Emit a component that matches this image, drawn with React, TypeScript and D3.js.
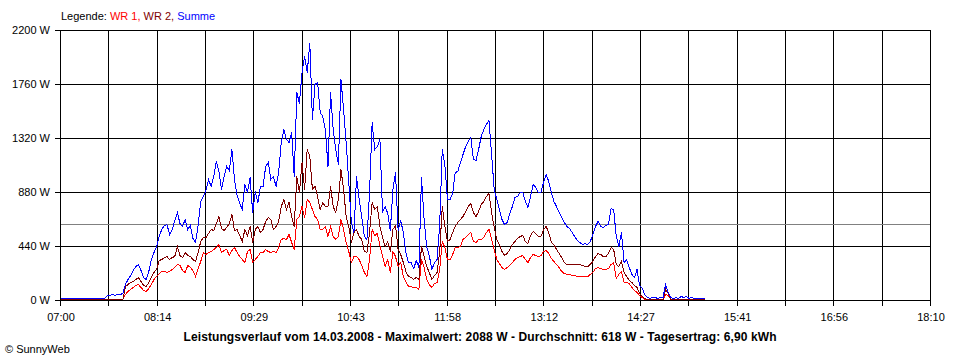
import React from 'react';
import * as d3 from 'd3';

// Sampling: one value every 2 minutes starting 07:00
const startLabel = '07:00';
const stepMinutes = 2;
const spanMinutes = 670; // 07:00 .. 18:10

const summe = [
  5, 5, 8, 8, 5, 5, 8, 5, 5, 5,
  8, 5, 5, 8, 5, 5, 8, 10, 35, 35,
  38, 35, 38, 40, 45, 122, 160, 195, 240, 271,
  285, 235, 180, 165, 230, 330, 380, 435, 516, 570,
  600, 611, 530, 570, 640, 706, 620, 597, 652, 570,
  600, 500, 462, 600, 801, 840, 890, 978, 920, 1000,
  1127, 1040, 900, 1000, 1086, 1050, 1222, 978, 850, 780,
  733, 937, 870, 991, 706, 882, 788, 923, 923, 1086,
  1114, 978, 1005, 923, 1032, 1277, 1385, 1304, 1277, 1358,
  1005, 1684, 1600, 1847, 1983, 1850, 2088, 1467, 1752, 1766,
  1521, 1494, 1385, 1086, 1684, 1385, 1222, 1100, 1793, 1548,
  1277, 950, 625, 543, 1005, 815, 679, 516, 489, 869,
  1440, 1222, 1250, 1300, 706, 760, 700, 560, 896, 1032,
  560, 640, 543, 380, 299, 299, 250, 320, 260, 991,
  650, 435, 360, 244, 300, 330, 600, 1222, 1100, 815,
  815, 860, 1032, 1040, 1114, 1180, 1250, 1290, 1317, 1141,
  1130, 1222, 1330, 1385, 1426, 1461, 1180, 900, 815, 730,
  650, 611, 630, 700, 760, 828, 842, 869, 875, 801,
  747, 842, 937, 910, 869, 869, 951, 1018, 964, 869,
  801, 760, 706, 665, 630, 597, 576, 543, 511, 484,
  462, 448, 456, 452, 470, 530, 597, 638, 597, 584,
  603, 611, 739, 733, 516, 435, 543, 299, 326, 258,
  204, 177, 244, 114, 87, 41, 14, 10, 14, 14,
  10, 14, 20, 122, 60, 14, 10, 20, 10, 25,
  15, 25, 10, 14, 8, 8, 8, 8, 8,
];

const wr1 = [
  0, 0, 0, 0, 0, 0, 0, 0, 0, 0,
  0, 0, 0, 0, 0, 0, 0, 0, 0, 0,
  0, 0, 0, 0, 0,
  40, 68, 80, 100, 115, 122, 100, 75, 68, 90,
  120, 160, 190, 215, 231, 230, 220, 230, 245, 258,
  285, 275, 240, 220, 275, 260, 240, 190, 250, 312,
  380, 370, 380, 395, 407, 420, 448, 380, 400, 407,
  360, 400, 420, 380, 353, 330, 299, 390, 407, 299,
  326, 353, 380, 380, 407, 394, 380, 394, 380, 420,
  489, 500, 489, 530, 462, 407, 652, 679, 760, 665,
  815, 788, 733, 679, 652, 570, 570, 597, 516, 597,
  516, 489, 516, 652, 570, 462, 394, 299, 353, 353,
  330, 280, 217, 190, 326, 570, 520, 540, 440, 353,
  271, 326, 217, 394, 353, 271, 299, 190, 149, 109,
  105, 100, 95, 85, 326, 258, 163, 122, 95, 130,
  136, 244, 475, 421, 326, 326, 367, 421, 421, 435,
  489, 502, 530, 543, 475, 462, 489, 489, 502, 543,
  570, 489, 407, 326, 293, 258, 244, 258, 280, 304,
  326, 340, 353, 360, 326, 304, 340, 367, 360, 353,
  358, 394, 401, 375, 331, 310, 288, 258, 231, 212,
  204, 200, 195, 192, 190, 190, 191, 187, 190, 204,
  222, 250, 258, 250, 244, 244, 250, 285, 299, 168,
  204, 231, 141, 141, 130, 95, 73, 54, 33, 16,
  0, 0, 0, 0, 0, 0, 0, 0, 40, 35,
  0, 0, 0, 0, 0, 0, 0, 0, 0, 0, 0, 0, 0, 0,
];

const wr2 = [
  0, 0, 0, 0, 0, 0, 0, 0, 0, 0,
  0, 0, 0, 0, 0, 0, 0, 0, 0, 0,
  0, 0, 0, 0, 0,
  109, 120, 135, 145, 160, 177, 150, 115, 109, 140,
  180, 220, 244, 320, 330, 340, 350, 326, 340, 353,
  435, 360, 340, 380, 360, 350, 330, 310, 380, 470,
  502, 502, 540, 570, 560, 620, 679, 580, 560, 590,
  620, 692, 560, 570, 520, 475, 570, 520, 597, 462,
  570, 597, 548, 570, 638, 665, 652, 570, 597, 638,
  760, 815, 733, 788, 679, 597, 1005, 869, 1114, 896,
  1222, 1168, 896, 923, 842, 733, 788, 760, 760, 923,
  760, 706, 815, 1059, 896, 679, 597, 462, 543, 570,
  516, 489, 394, 380, 543, 788, 733, 760, 597, 502,
  435, 475, 394, 570, 600, 407, 367, 299, 231, 190,
  177, 163, 177, 163, 435, 353, 271, 217, 163, 195,
  217, 380, 760, 597, 475, 489, 543, 597, 625, 652,
  679, 720, 760, 782, 706, 679, 720, 774, 801, 842,
  864, 712, 584, 489, 448, 394, 361, 372, 407, 448,
  475, 494, 516, 522, 475, 456, 521, 554, 535, 511,
  516, 570, 597, 543, 467, 445, 407, 375, 340, 304,
  285, 285, 285, 285, 285, 285, 277, 266, 271, 285,
  307, 348, 375, 367, 353, 353, 375, 421, 407, 285,
  271, 312, 217, 190, 157, 136, 114, 95, 46, 27,
  8, 0, 0, 0, 0, 0, 0, 0, 81, 50,
  0, 0, 0, 0, 0, 0, 0, 0, 0, 0, 0, 0, 0, 0,
];

const yTickValues = [0, 440, 880, 1320, 1760, 2200];
const xTickLabels = ['07:00', '08:14', '09:29', '10:43', '11:58', '13:12', '14:27', '15:41', '16:56', '18:10'];
const gridDivisions = 18;
const averageWatt = 618;
const legendParts = [
  { text: 'Legende: ', color: '#000000' },
  { text: 'WR 1, ', color: '#FF0000' },
  { text: 'WR 2, ', color: '#800000' },
  { text: 'Summe', color: '#0000FF' },
];
const titleText = 'Leistungsverlauf vom 14.03.2008 - Maximalwert: 2088 W - Durchschnitt: 618 W - Tagesertrag: 6,90 kWh';
const footerText = '\u00A9 SunnyWeb';

const FONT = '"Liberation Sans", Arial, sans-serif';

export default function App() {
  const W = 960;
  const H = 360;
  const x = d3.scaleLinear().domain([0, spanMinutes]).range([60, 930]);
  const y = d3.scaleLinear().domain([0, 2200]).range([300, 30]);
  const px = (v: number) => Math.round(v) + 0.5;

  const gridTimes = d3.range(gridDivisions + 1).map((i) => (i * spanMinutes) / gridDivisions);
  const labelTimes = gridTimes.filter((_, i) => i % 2 === 0);

  const lineGen = d3
    .line<number>()
    .x((_, i) => x(i * stepMinutes) + 0.5)
    .y((d) => Math.round(y(d)) - 0.5);

  const series = [
    { data: wr1, color: '#FF0000' },
    { data: wr2, color: '#800000' },
    { data: summe, color: '#0000FF' },
  ];

  return (
    <svg
      width={W}
      height={H}
      viewBox={`0 0 ${W} ${H}`}
      style={{ position: 'absolute', left: 0, top: 0, background: '#ffffff', display: 'block' }}
      fontFamily={FONT}
      data-start={startLabel}
    >
      <rect x={0} y={0} width={W} height={H} fill="#ffffff" />
      {/* grid */}
      <g stroke="#000" strokeWidth={1} shapeRendering="crispEdges">
        {yTickValues.map((v) => (
          <line key={'h' + v} x1={55} x2={931} y1={px(y(v))} y2={px(y(v))} />
        ))}
        {gridTimes.map((t, i) => (
          <line key={'v' + i} x1={px(x(t))} x2={px(x(t))} y1={30} y2={306} />
        ))}
      </g>
      {/* average */}
      <line
        x1={61}
        x2={930}
        y1={px(y(averageWatt))}
        y2={px(y(averageWatt))}
        stroke="#808080"
        strokeWidth={1}
        shapeRendering="crispEdges"
      />
      {/* data */}
      <g fill="none" strokeWidth={1} shapeRendering="crispEdges">
        {series.map((s, k) => (
          <path key={k} d={lineGen(s.data) || ''} stroke={s.color} />
        ))}
      </g>
      {/* axes on top */}
      <g stroke="#000" strokeWidth={1} shapeRendering="crispEdges">
        <line x1={55} x2={931} y1={px(y(0))} y2={px(y(0))} />
        <line x1={px(x(0))} x2={px(x(0))} y1={30} y2={306} />
      </g>
      {/* y labels */}
      <g fontSize={11} fill="#000" textAnchor="end">
        {yTickValues.map((v) => (
          <text key={'yl' + v} x={50} y={Math.round(y(v)) + 4}>
            {v} W
          </text>
        ))}
      </g>
      {/* x labels */}
      <g fontSize={11} fill="#000" textAnchor="middle">
        {labelTimes.map((t, i) => (
          <text key={'xl' + i} x={x(t) + 1} y={321}>
            {xTickLabels[i]}
          </text>
        ))}
      </g>
      {/* legend */}
      <text x={61} y={20} fontSize={11}>
        {legendParts.map((p, i) => (
          <tspan key={i} fill={p.color}>
            {p.text}
          </tspan>
        ))}
      </text>
      {/* title */}
      <text
        x={480}
        y={341}
        fontSize={12}
        fontWeight="bold"
        textAnchor="middle"
        fill="#000"
        textLength={593}
        lengthAdjust="spacing"
      >
        {titleText}
      </text>
      <text x={5} y={353} fontSize={11} fill="#000">
        {footerText}
      </text>
    </svg>
  );
}
